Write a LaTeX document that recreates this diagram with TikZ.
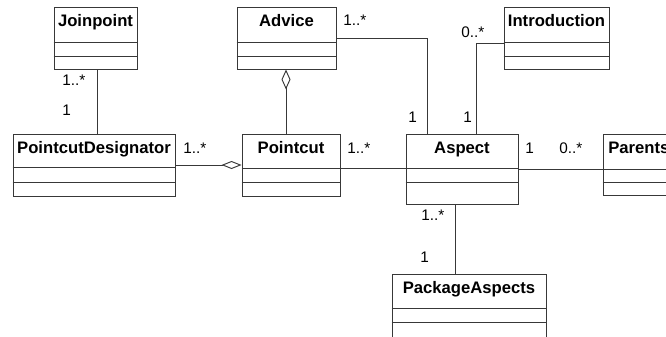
\documentclass[tikz,border=0pt]{standalone}
\usepackage{fontspec}
\setmainfont{Liberation Sans}
\usetikzlibrary{fit,arrows.meta}
\newcommand\mkclass[8]{%
  \node[clsbox, fit={(#2,#3)(#4,#5)}] (#1) {};
  \draw[clsline] (#1.west |- 0,#6) -- (#1.east |- 0,#6) (#1.west |- 0,#7) -- (#1.east |- 0,#7);
  \node[clsname] at ({(#2+#4)/2},{#3+19.5}) {#8};
}
\tikzset{
  clsbox/.style={draw=black!78, line width=0.7pt, inner sep=0pt, fill=white},
  clsline/.style={draw=black!78, line width=0.7pt},
  clsname/.style={anchor=base, inner sep=0pt, font=\fontsize{12.5}{14}\selectfont\bfseries},
  mult/.style={anchor=base west, inner sep=0pt, font=\fontsize{11.5}{13}\selectfont},
  conn/.style={draw=black!78, line width=0.7pt},
  aggv/.style={{Diamond[open,length=15pt,width=6.75pt]}-},
  aggh/.style={-{Diamond[open,length=15pt,width=6pt]}}
}
\begin{document}
\begin{tikzpicture}[x=0.75pt,y=-0.75pt]
\useasboundingbox (0,0) rectangle (666,336);
\fill[white] (0,0) rectangle (666,336);
\begin{scope}
\clip (0,0) rectangle (666,336);
\mkclass{joinpoint}{54}{7}{137}{69}{42}{56}{Joinpoint}
\mkclass{advice}{237}{7}{336}{69}{42}{56}{Advice}
\mkclass{introduction}{504}{7}{609}{69}{42}{56}{Introduction}
\mkclass{pd}{13}{134}{175}{196}{167}{182}{PointcutDesignator}
\mkclass{pointcut}{242}{134}{340}{196}{168}{182}{Pointcut}
\mkclass{aspect}{406}{134}{518}{204}{168}{182}{Aspect}
\mkclass{parents}{603}{134}{680}{195}{169}{182}{}
\node[clsname, anchor=base west] at (608,153.5) {Parents};
\mkclass{pkg}{392}{274}{546}{350}{308}{322}{PackageAspects}

\draw[conn] (joinpoint.south -| 97,0) -- (pd.north -| 97,0);
\draw[conn,aggv] (advice.south -| 286,0) -- (pointcut.north -| 286,0);
\draw[conn,aggh] (pd.east |- 0,165) -- (pointcut.west |- 0,165);
\draw[conn] (advice.east |- 0,38) -| (aspect.north -| 427,0);
\draw[conn] (introduction.west |- 0,43) -| (aspect.north -| 476,0);
\draw[conn] (pointcut.east |- 0,168) -- (aspect.west |- 0,168);
\draw[conn] (aspect.east |- 0,169) -- (parents.west |- 0,169);
\draw[conn] (aspect.south -| 455,0) -- (pkg.north -| 455,0);

\node[mult] (m1) at (62,85) {1..*};
\node[mult] (m2) at (62,115) {1};
\node[mult] (m3) at (183,153) {1..*};
\node[mult] (m4) at (343,25) {1..*};
\node[mult] (m5) at (461,37) {0..*};
\node[mult] (m6) at (408,122) {1};
\node[mult] (m7) at (463,122) {1};
\node[mult] (m8) at (347,153) {1..*};
\node[mult] (m9) at (525,153) {1};
\node[mult] (m10) at (559,153) {0..*};
\node[mult] (m11) at (421,220) {1..*};
\node[mult] (m12) at (420,262) {1};
\end{scope}
\end{tikzpicture}
\end{document}
